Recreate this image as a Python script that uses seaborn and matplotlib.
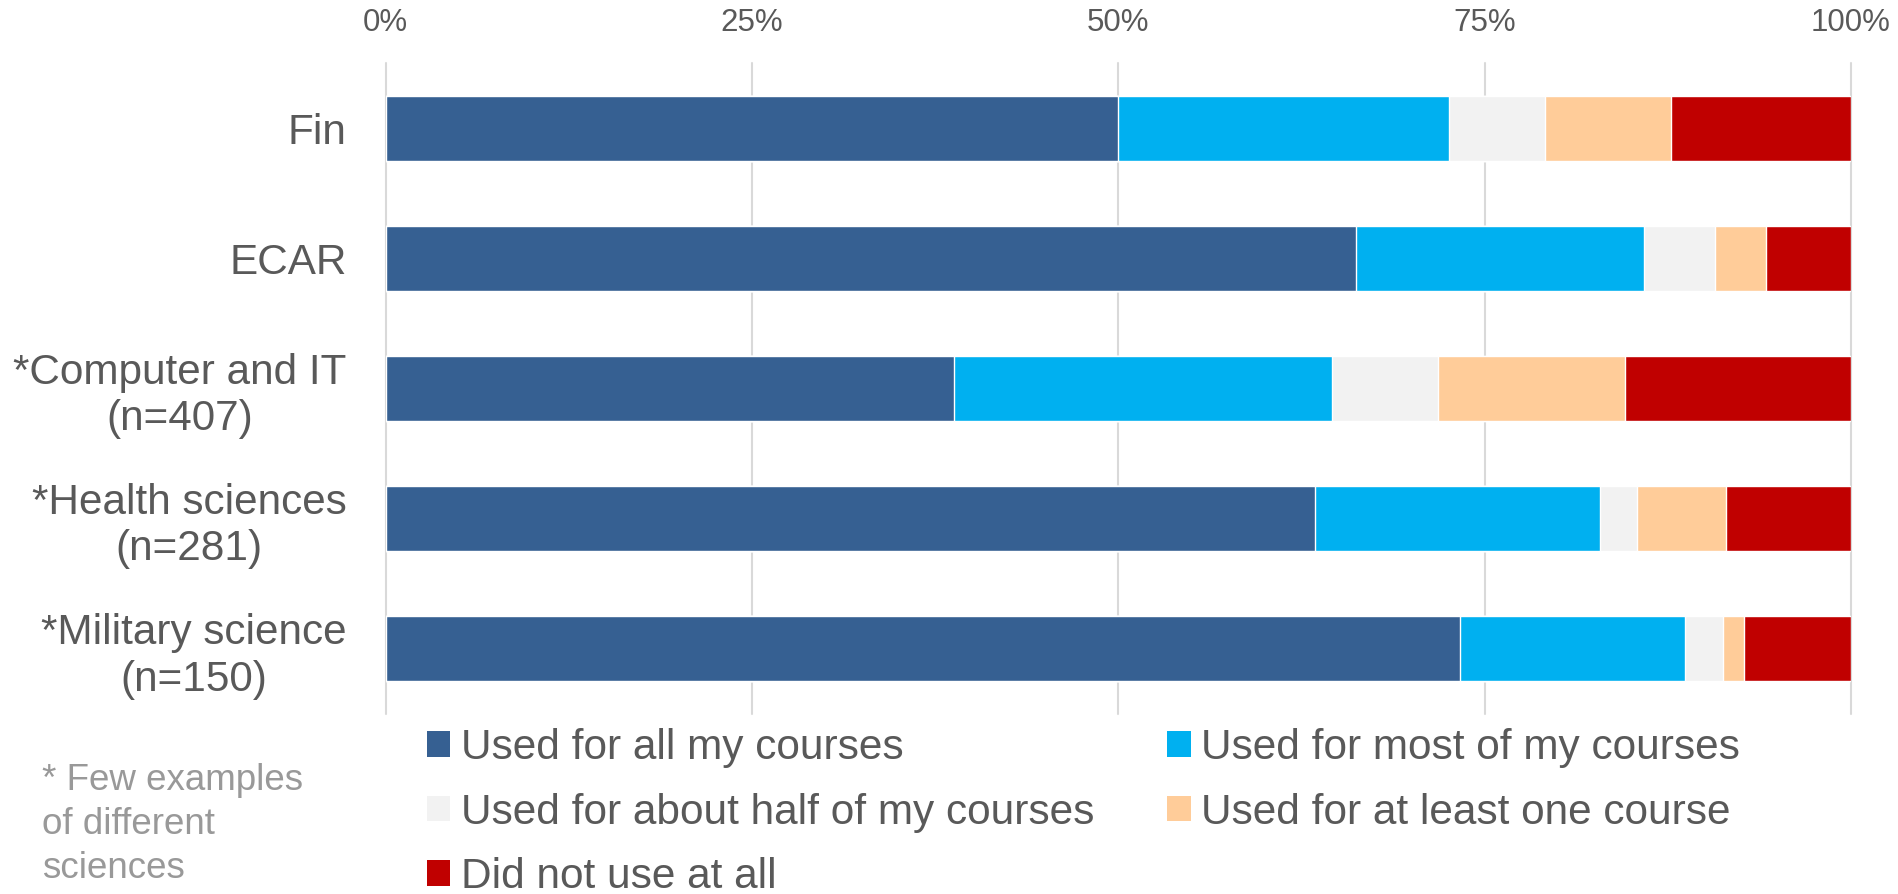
import numpy as np
import matplotlib
matplotlib.use("Agg")
import matplotlib.pyplot as plt
from matplotlib.patches import Patch
import seaborn as sns

categories = ["Fin", "ECAR", "*Computer and IT\n(n=407)",
              "*Health sciences\n(n=281)", "*Military science\n(n=150)"]
series_names = ["Used for all my courses", "Used for most of my courses",
                "Used for about half of my courses", "Used for at least one course",
                "Did not use at all"]
all_courses = [50.0, 66.2, 38.8, 63.4, 73.3]
most_courses = [22.6, 19.7, 25.8, 19.5, 15.4]
half_courses = [6.5, 4.8, 7.2, 2.5, 2.6]
one_course = [8.6, 3.5, 12.8, 6.1, 1.4]
not_used = [12.3, 5.8, 15.4, 8.5, 7.3]
colors = ["#366092", "#00B0F0", "#F2F2F2", "#FFCC99", "#C00000"]
x_ticks = [0, 25, 50, 75, 100]
x_tick_labels = ["0%", "25%", "50%", "75%", "100%"]
footnote = "* Few examples\nof different\nsciences"

sns.set_theme(style="white")
plt.rcParams["font.family"] = ["Liberation Sans", "DejaVu Sans"]

TEXT = "#595959"
fig = plt.figure(figsize=(18.99, 8.94), dpi=100)
ax = fig.add_axes([0.2031, 0.2013, 0.7716, 0.7282])

stack = np.array([all_courses, most_courses, half_courses, one_course, not_used])
cum = np.cumsum(stack, axis=0)
for i in range(len(series_names) - 1, -1, -1):
    sns.barplot(x=cum[i], y=categories, color=colors[i], orient="h", width=0.5,
                saturation=1, errorbar=None, ax=ax, zorder=3)

ax.set_xlim(0, 100)
ax.set_ylim(4.5, -0.5)
ax.set_xlabel("")
ax.set_ylabel("")
ax.xaxis.tick_top()
ax.set_xticks(x_ticks)
ax.set_xticklabels(x_tick_labels)
ax.tick_params(axis="x", length=0, pad=18, labelsize=22.5, labelcolor=TEXT)
ax.tick_params(axis="y", length=0, pad=28, labelsize=30.4, labelcolor=TEXT)
for lab in ax.get_yticklabels():
    lab.set_multialignment("center")
ax.xaxis.grid(True, color="#D9D9D9", lw=1.5, zorder=0)
ax.yaxis.grid(False)
ax.set_axisbelow(True)
for s in ax.spines.values():
    s.set_visible(False)
for gl in ax.get_xgridlines():
    gl.set_clip_on(False)

handles = [Patch(facecolor=c, edgecolor="none") for c in colors]
order = [0, 2, 4, 1, 3]
fig.legend([handles[i] for i in order], [series_names[i] for i in order],
           loc="upper left", bbox_to_anchor=(0.2249, 0.1855), ncol=2, frameon=False,
           fontsize=30.5, handlelength=0.55, handleheight=0.55, handletextpad=0.25,
           columnspacing=1.72, labelspacing=0.575, borderpad=0, borderaxespad=0,
           labelcolor=TEXT)

fig.text(0.0223, 0.1465, footnote, ha="left", va="top", fontsize=26.5,
         color="#999999", linespacing=1.33)

fig.savefig("out.png", dpi=100)
